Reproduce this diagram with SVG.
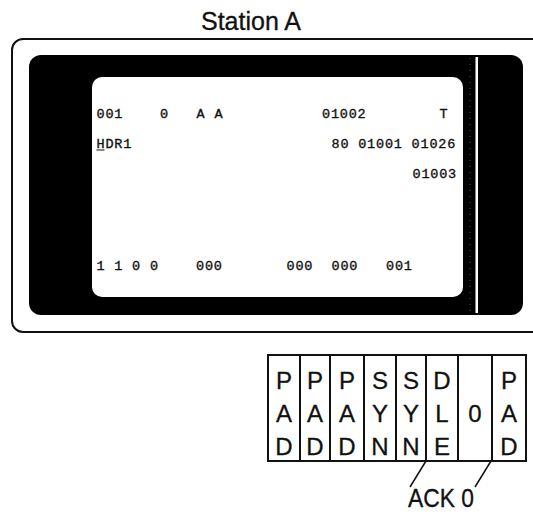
<svg xmlns="http://www.w3.org/2000/svg" width="533" height="516" viewBox="0 0 533 516">
<style>
.mono{font-family:"Liberation Mono","DejaVu Sans Mono",monospace;font-size:13.5px;letter-spacing:0.8px;fill:#111;stroke:#111;stroke-width:0.35}
.sans{font-family:"Liberation Sans",Arial,sans-serif;fill:#111}
.lt{font-size:24px;text-anchor:middle;stroke:#111;stroke-width:0.3}
.cell{fill:#fff;stroke:#111;stroke-width:2}
.conn{stroke:#111;stroke-width:1.5;fill:none}
</style>
<rect width="533" height="516" fill="#fff"/>
<g id="title">
<text class="sans" x="251" y="30" font-size="25" text-anchor="middle" stroke="#111" stroke-width="0.3">Station A</text>
</g>
<g id="station-a">
<rect x="12" y="39" width="540" height="293" rx="11" fill="#fff" stroke="#111" stroke-width="2"/>
<rect x="29" y="55" width="494" height="260" rx="12" fill="#000"/>
<line x1="470" y1="58" x2="470" y2="312" stroke="#555" stroke-width="1" stroke-dasharray="1 5"/>
<rect x="475.5" y="57" width="2.5" height="256" fill="#fff"/>
<rect x="92" y="77" width="371" height="220" rx="10" fill="#fff"/>
<g id="screen-text">
<text class="mono" x="96.5" y="117.5">001</text>
<text class="mono" x="160" y="117.5">0</text>
<text class="mono" x="196.5" y="117.5">A</text>
<text class="mono" x="214.5" y="117.5">A</text>
<text class="mono" x="322" y="117.5">01002</text>
<text class="mono" x="439.5" y="117.5">T</text>
<text class="mono" x="96.5" y="147.5">HDR1</text>
<line x1="96.5" y1="150" x2="104.5" y2="150" stroke="#111" stroke-width="1"/>
<text class="mono" x="331.5" y="147.5">80 01001 01026</text>
<text class="mono" x="412.5" y="177.5">01003</text>
<text class="mono" x="96.5" y="269.5">1 1 0 0</text>
<text class="mono" x="196" y="269.5">000</text>
<text class="mono" x="286.5" y="269.5">000</text>
<text class="mono" x="331.5" y="269.5">000</text>
<text class="mono" x="386" y="269.5">001</text>
</g>
</g>
<g id="frame">
<g id="f1"><rect class="cell" x="268" y="355" width="32" height="106"/><text class="sans lt" x="284" y="389">P</text><text class="sans lt" x="284" y="422">A</text><text class="sans lt" x="284" y="455">D</text></g>
<g id="f2"><rect class="cell" x="300" y="355" width="30" height="106"/><text class="sans lt" x="315" y="389">P</text><text class="sans lt" x="315" y="422">A</text><text class="sans lt" x="315" y="455">D</text></g>
<g id="f3"><rect class="cell" x="330" y="355" width="34" height="106"/><text class="sans lt" x="347" y="389">P</text><text class="sans lt" x="347" y="422">A</text><text class="sans lt" x="347" y="455">D</text></g>
<g id="f4"><rect class="cell" x="364" y="355" width="32" height="106"/><text class="sans lt" x="380" y="389">S</text><text class="sans lt" x="380" y="422">Y</text><text class="sans lt" x="380" y="455">N</text></g>
<g id="f5"><rect class="cell" x="396" y="355" width="30" height="106"/><text class="sans lt" x="411" y="389">S</text><text class="sans lt" x="411" y="422">Y</text><text class="sans lt" x="411" y="455">N</text></g>
<g id="f6"><rect class="cell" x="426" y="355" width="32" height="106"/><text class="sans lt" x="442" y="389">D</text><text class="sans lt" x="442" y="422">L</text><text class="sans lt" x="442" y="455">E</text></g>
<g id="f7"><rect class="cell" x="458" y="355" width="34" height="106"/><text class="sans lt" x="475" y="422">0</text></g>
<g id="f8"><rect class="cell" x="492" y="355" width="34" height="106"/><text class="sans lt" x="509" y="389">P</text><text class="sans lt" x="509" y="422">A</text><text class="sans lt" x="509" y="455">D</text></g>
</g>
<g id="connectors">
<line class="conn" x1="426" y1="461" x2="410" y2="487"/>
<line class="conn" x1="491" y1="461" x2="475" y2="487"/>
</g>
<g id="ack-label">
<text class="sans" x="408" y="507" font-size="25" textLength="66" lengthAdjust="spacingAndGlyphs" stroke="#111" stroke-width="0.3">ACK 0</text>
</g>
</svg>
